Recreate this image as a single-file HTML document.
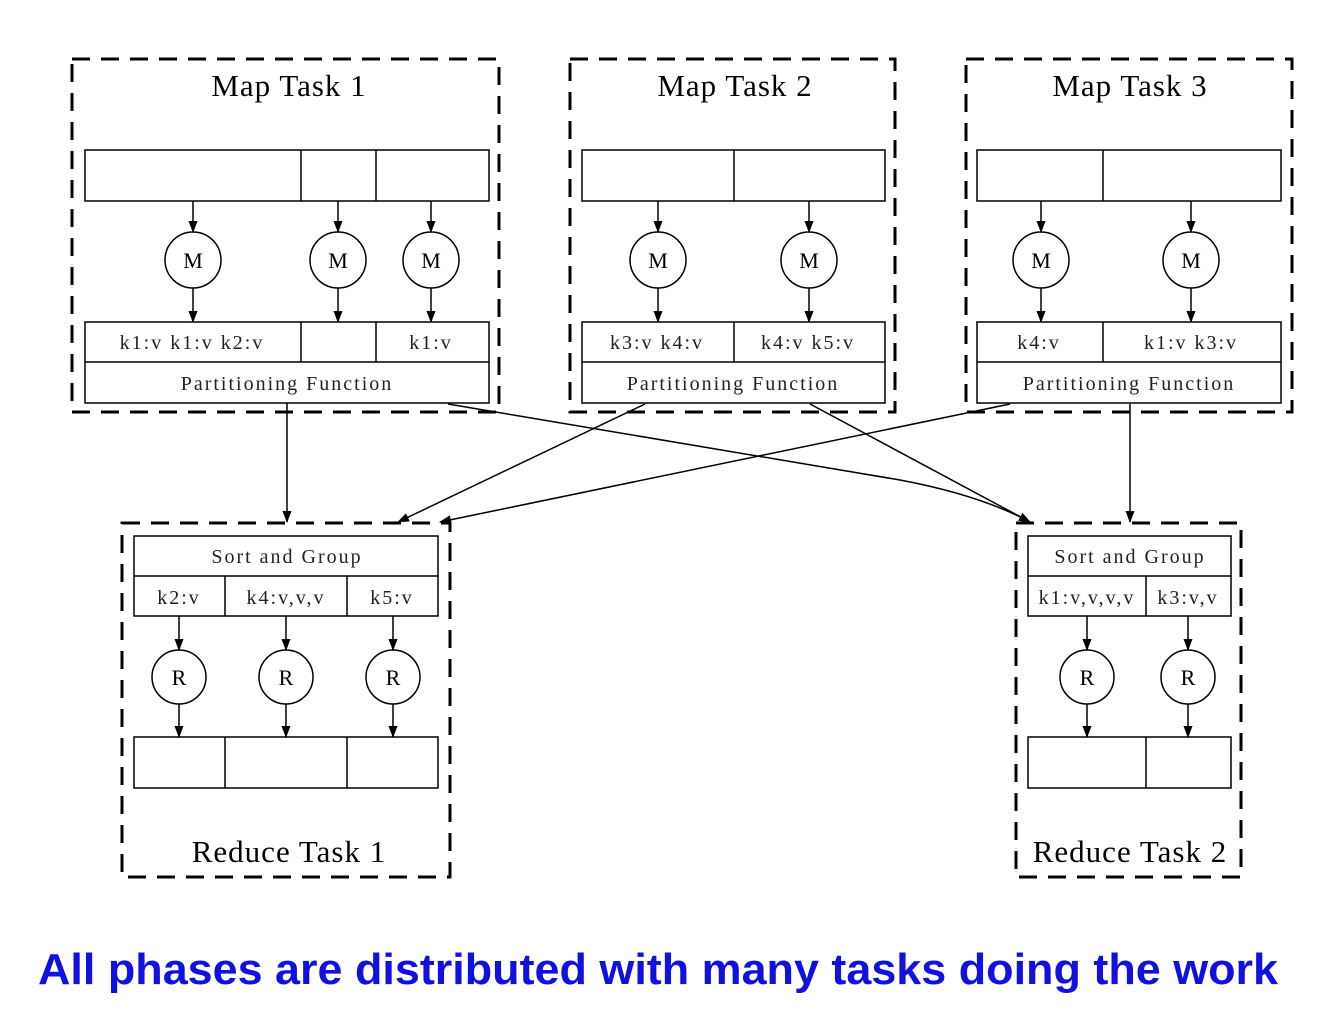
<!DOCTYPE html>
<html><head><style>body{margin:0;background:#fff}svg{display:block}</style></head><body>
<svg width="1340" height="1036" xmlns="http://www.w3.org/2000/svg" font-family="Liberation Serif, serif">
<defs><marker id="a" markerWidth="12" markerHeight="12" refX="11" refY="6" orient="auto" markerUnits="userSpaceOnUse"><path d="M0,1.5 L12,6 L0,10.5 z" fill="#000"/></marker></defs>
<g fill="none" stroke="#000" stroke-width="3" stroke-dasharray="18,11">
<rect x="72" y="59" width="427" height="353"/>
<rect x="570" y="59" width="325" height="353"/>
<rect x="966" y="59" width="326" height="353"/>
<rect x="122" y="523" width="328" height="354"/>
<rect x="1016" y="523" width="225" height="354"/>
</g>
<g fill="#fff" stroke="#000" stroke-width="1.5">
<rect x="85" y="150" width="404" height="51"/><line x1="301" y1="150" x2="301" y2="201"/><line x1="376" y1="150" x2="376" y2="201"/>
<rect x="85" y="322" width="404" height="81"/><line x1="85" y1="362" x2="489" y2="362"/><line x1="301" y1="322" x2="301" y2="362"/><line x1="376" y1="322" x2="376" y2="362"/>
<rect x="582" y="150" width="303" height="51"/><line x1="734" y1="150" x2="734" y2="201"/>
<rect x="582" y="322" width="303" height="81"/><line x1="582" y1="362" x2="885" y2="362"/><line x1="734" y1="322" x2="734" y2="362"/>
<rect x="977" y="150" width="304" height="51"/><line x1="1103" y1="150" x2="1103" y2="201"/>
<rect x="977" y="322" width="304" height="81"/><line x1="977" y1="362" x2="1281" y2="362"/><line x1="1103" y1="322" x2="1103" y2="362"/>
<rect x="134" y="536" width="304" height="80"/><line x1="134" y1="576" x2="438" y2="576"/><line x1="225" y1="576" x2="225" y2="616"/><line x1="347" y1="576" x2="347" y2="616"/>
<rect x="134" y="737" width="304" height="51"/><line x1="225" y1="737" x2="225" y2="788"/><line x1="347" y1="737" x2="347" y2="788"/>
<rect x="1028" y="536" width="203" height="80"/><line x1="1028" y1="576" x2="1231" y2="576"/><line x1="1146" y1="576" x2="1146" y2="616"/>
<rect x="1028" y="737" width="203" height="51"/><line x1="1146" y1="737" x2="1146" y2="788"/>
<circle cx="193" cy="260" r="28"/><circle cx="338" cy="260" r="28"/><circle cx="431" cy="260" r="28"/>
<circle cx="658" cy="260" r="28"/><circle cx="809" cy="260" r="28"/>
<circle cx="1041" cy="260" r="28"/><circle cx="1191" cy="260" r="28"/>
<circle cx="179" cy="677" r="27"/><circle cx="286" cy="677" r="27"/><circle cx="393" cy="677" r="27"/>
<circle cx="1087" cy="677" r="27"/><circle cx="1188" cy="677" r="27"/>
</g>
<g stroke="#000" stroke-width="1.5" marker-end="url(#a)" fill="none">
<line x1="193" y1="201" x2="193" y2="232"/><line x1="193" y1="288" x2="193" y2="322"/>
<line x1="338" y1="201" x2="338" y2="232"/><line x1="338" y1="288" x2="338" y2="322"/>
<line x1="431" y1="201" x2="431" y2="232"/><line x1="431" y1="288" x2="431" y2="322"/>
<line x1="658" y1="201" x2="658" y2="232"/><line x1="658" y1="288" x2="658" y2="322"/>
<line x1="809" y1="201" x2="809" y2="232"/><line x1="809" y1="288" x2="809" y2="322"/>
<line x1="1041" y1="201" x2="1041" y2="232"/><line x1="1041" y1="288" x2="1041" y2="322"/>
<line x1="1191" y1="201" x2="1191" y2="232"/><line x1="1191" y1="288" x2="1191" y2="322"/>
<line x1="179" y1="616" x2="179" y2="650"/><line x1="179" y1="704" x2="179" y2="737"/>
<line x1="286" y1="616" x2="286" y2="650"/><line x1="286" y1="704" x2="286" y2="737"/>
<line x1="393" y1="616" x2="393" y2="650"/><line x1="393" y1="704" x2="393" y2="737"/>
<line x1="1087" y1="616" x2="1087" y2="650"/><line x1="1087" y1="704" x2="1087" y2="737"/>
<line x1="1188" y1="616" x2="1188" y2="650"/><line x1="1188" y1="704" x2="1188" y2="737"/>
<line x1="287" y1="403" x2="287" y2="522"/>
<path d="M448,404 L900,480 Q980,495 1030,522"/>
<line x1="645" y1="404" x2="398" y2="522"/>
<line x1="810" y1="404" x2="1030" y2="522"/>
<line x1="1010" y1="404" x2="440" y2="522"/>
<line x1="1130" y1="404" x2="1130" y2="522"/>
</g>
<g font-size="31" text-anchor="middle" fill="#000" letter-spacing="1">
<text x="289" y="96">Map Task 1</text><text x="735" y="96">Map Task 2</text><text x="1130" y="96">Map Task 3</text>
<text x="289" y="862">Reduce Task 1</text><text x="1130" y="862">Reduce Task 2</text>
</g>
<g font-size="22" text-anchor="middle" fill="#000">
<text x="193" y="268">M</text><text x="338" y="268">M</text><text x="431" y="268">M</text>
<text x="658" y="268">M</text><text x="809" y="268">M</text><text x="1041" y="268">M</text><text x="1191" y="268">M</text>
<text x="179" y="685">R</text><text x="286" y="685">R</text><text x="393" y="685">R</text><text x="1087" y="685">R</text><text x="1188" y="685">R</text>
</g>
<g font-size="20" text-anchor="middle" fill="#222" letter-spacing="2">
<text x="192" y="349">k1:v k1:v k2:v</text><text x="431" y="349">k1:v</text>
<text x="287" y="390">Partitioning Function</text>
<text x="657" y="349">k3:v k4:v</text><text x="808" y="349">k4:v k5:v</text>
<text x="733" y="390">Partitioning Function</text>
<text x="1039" y="349">k4:v</text><text x="1191" y="349">k1:v k3:v</text>
<text x="1129" y="390">Partitioning Function</text>
<text x="287" y="563">Sort and Group</text>
<text x="179" y="604">k2:v</text><text x="286" y="604">k4:v,v,v</text><text x="392" y="604">k5:v</text>
<text x="1130" y="563">Sort and Group</text>
<text x="1087" y="604">k1:v,v,v,v</text><text x="1188" y="604">k3:v,v</text>
</g>
<text x="38" y="984" font-family="Liberation Sans, sans-serif" font-weight="bold" font-size="44" fill="#1010e0" textLength="1240" lengthAdjust="spacingAndGlyphs">All phases are distributed with many tasks doing the work</text>
</svg>
</body></html>
